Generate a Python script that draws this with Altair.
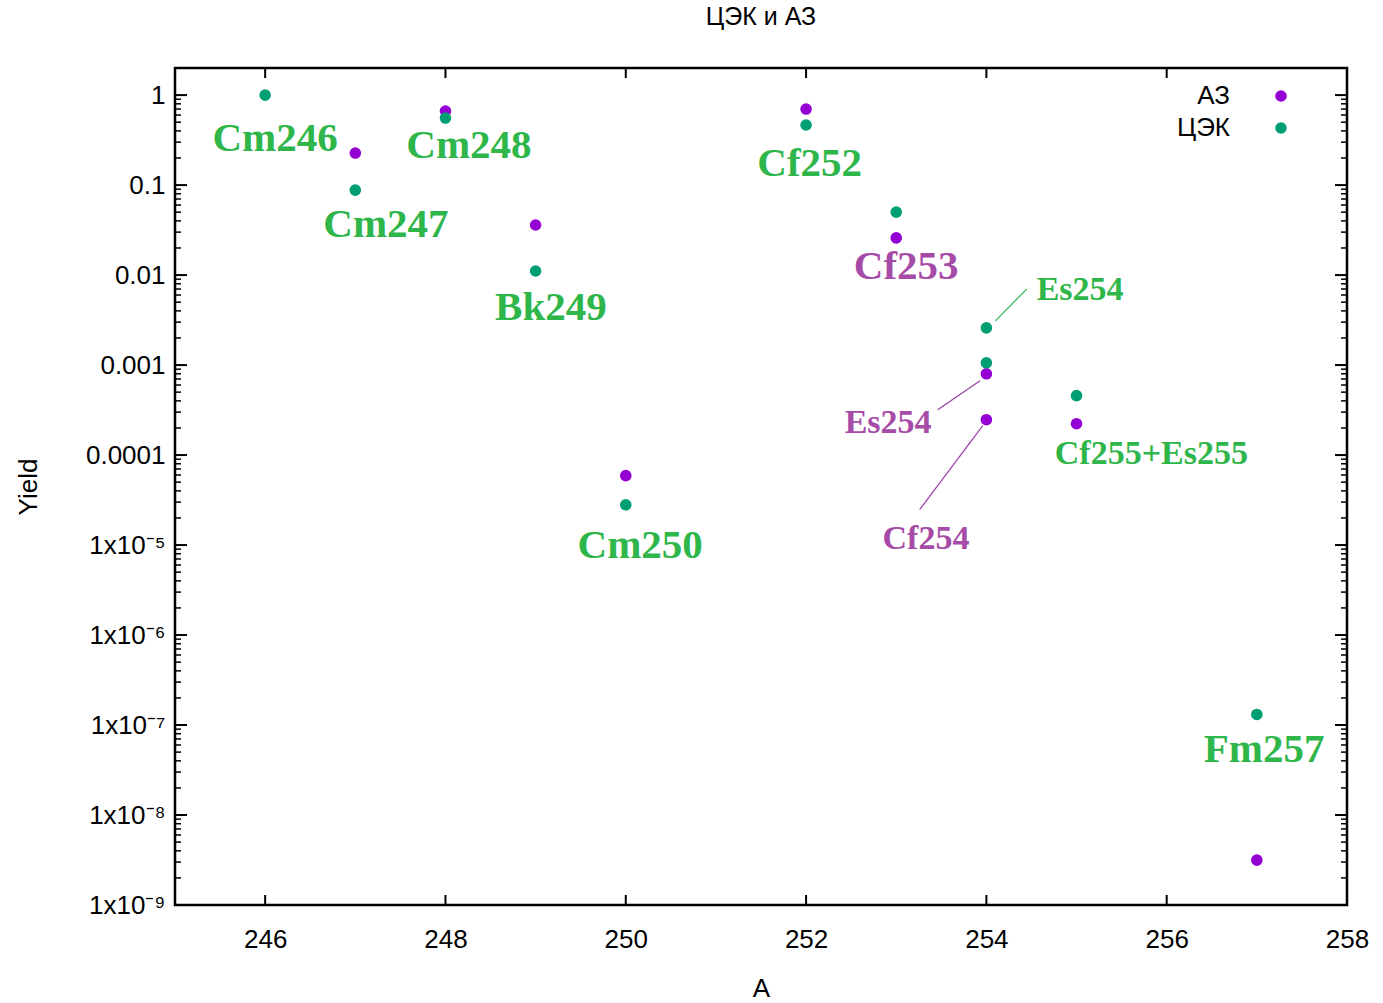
import altair as alt
import pandas as pd

# ---------------- data ----------------
tsek_A = [246, 247, 248, 249, 250, 252, 253, 254, 254, 255, 257]
tsek_Y = [1.0, 0.088, 0.556, 0.0111, 2.8e-5, 0.465, 0.050, 0.00259, 0.00106, 0.000457, 1.31e-7]

az_A = [247, 248, 249, 250, 252, 253, 254, 254, 255, 257]
az_Y = [0.227, 0.665, 0.036, 5.9e-5, 0.70, 0.0259, 0.0008, 0.000247, 0.000223, 3.15e-9]

GREEN_T = "#2eb64a"
PURPLE_T = "#a64ca8"

lab_text = ["Cm246", "Cm248", "Cm247", "Bk249", "Cm250", "Cf252", "Cf253", "Fm257",
            "Es254", "Es254", "Cf254", "Cf255+Es255"]
lab_x = [246.11, 248.26, 247.34, 249.17, 250.16, 252.04, 253.11, 257.08,
         255.04, 252.91, 253.33, 255.83]
lab_y = [0.239, 0.2, 0.0265, 0.00318, 7.26e-6, 0.126, 0.00908, 3.85e-8,
         0.0053, 0.000177, 9.14e-6, 8.03e-5]
lab_color = [GREEN_T, GREEN_T, GREEN_T, GREEN_T, GREEN_T, GREEN_T, PURPLE_T, GREEN_T,
             GREEN_T, PURPLE_T, PURPLE_T, GREEN_T]
lab_size = [41, 41, 41, 41, 41, 41, 41, 41, 34, 34, 34, 34]

lead_x = [254.45, 253.46, 253.26]
lead_x2 = [254.10, 253.93, 253.96]
lead_y = [0.00703, 3.19e-4, 2.48e-5]
lead_y2 = [0.0031, 6.7e-4, 2.12e-4]
lead_color = [GREEN_T, "#9a3fa6", "#9a3fa6"]

x_ticks = [246, 248, 250, 252, 254, 256, 258]
y_major = [1e-9, 1e-8, 1e-7, 1e-6, 1e-5, 1e-4, 1e-3, 1e-2, 1e-1, 1.0]
y_minor = [m * 10.0 ** e for e in range(-9, 1) for m in range(2, 10) if m * 10.0 ** e <= 2.0]

# ---------------- layout ----------------
W, H = 1172, 837
LEFT, TOP = 175, 68

xscale = alt.Scale(domain=[245, 258], nice=False, zero=False)
yscale = alt.Scale(type="log", domain=[1e-9, 2], nice=False)

ylabel_expr = (
    "datum.value < 5e-9 ? '1x10⁻⁹' : datum.value < 5e-8 ? '1x10⁻⁸' : "
    "datum.value < 5e-7 ? '1x10⁻⁷' : datum.value < 5e-6 ? '1x10⁻⁶' : "
    "datum.value < 5e-5 ? '1x10⁻⁵' : format(datum.value, '~g')"
)

xaxis = alt.Axis(values=x_ticks, ticks=False, domain=False, grid=False,
                 labelFontSize=26, labelFont="Liberation Sans", labelColor="#000",
                 labelPadding=21, labelFlush=False, labelOverlap=False,
                 title="A", titleFontSize=26,
                 titleFont="Liberation Sans", titleFontWeight="normal",
                 titleX=W / 2, titleY=83, titleBaseline="middle", titleColor="#000")
yaxis = alt.Axis(values=y_major, ticks=False, domain=False, grid=False,
                 labelExpr=ylabel_expr, labelFontSize=26, labelFont="Liberation Sans",
                 labelColor="#000", labelPadding=10, labelFlush=False, labelOverlap=False,
                 title="Yield", titleFontSize=26, titleFont="Liberation Sans",
                 titleFontWeight="normal", titleX=28 - LEFT, titleY=H / 2,
                 titleBaseline="middle", titleAngle=270, titleColor="#000")

pts = pd.concat([
    pd.DataFrame({"A": az_A, "Yield": az_Y, "series": "АЗ"}),
    pd.DataFrame({"A": tsek_A, "Yield": tsek_Y, "series": "ЦЭК"}),
])

points = alt.Chart(pts).mark_point(filled=True, size=135, opacity=1, strokeWidth=0).encode(
    x=alt.X("A:Q", scale=xscale, axis=xaxis),
    y=alt.Y("Yield:Q", scale=yscale, axis=yaxis),
    color=alt.Color("series:N",
                    scale=alt.Scale(domain=["АЗ", "ЦЭК"], range=["#9400d3", "#009e73"]),
                    legend=alt.Legend(orient="none", legendX=1093, legendY=15, title=None,
                                      labelAlign="right", labelOffset={"expr": "-64"},
                                      labelFontSize=26,
                                      labelFont="Liberation Sans", labelColor="#000",
                                      symbolSize=135, symbolType="circle", rowPadding=6,
                                      padding=0, symbolStrokeWidth=0)),
)

def yrule(vals, x0, x1, sw):
    return alt.Chart(pd.DataFrame({"A": vals})).mark_rule(color="#000", strokeWidth=sw).encode(
        y=alt.Y("A:Q", scale=yscale, axis=yaxis), x=alt.value(x0), x2=alt.value(x1))

def xrule(vals, y0, y1, sw):
    return alt.Chart(pd.DataFrame({"A": vals})).mark_rule(color="#000", strokeWidth=sw).encode(
        x=alt.X("A:Q", scale=xscale, axis=xaxis), y=alt.value(y0), y2=alt.value(y1))

ticks = [
    yrule(y_major, 0, 12, 2), yrule(y_major, W - 12, W, 2),
    yrule(y_minor, 0, 6, 1.5), yrule(y_minor, W - 6, W, 1.5),
    xrule(x_ticks, H - 10, H, 2), xrule(x_ticks, 0, 10, 2),
]

leads = alt.Chart(pd.DataFrame({"x": lead_x, "x2": lead_x2, "y": lead_y, "y2": lead_y2,
                                "c": lead_color})).mark_rule(strokeWidth=1.2).encode(
    x=alt.X("x:Q", scale=xscale, axis=xaxis), x2="x2:Q",
    y=alt.Y("y:Q", scale=yscale, axis=yaxis), y2="y2:Q",
    color=alt.Color("c:N", scale=None))

labels = alt.Chart(pd.DataFrame({"t": lab_text, "x": lab_x, "y": lab_y, "c": lab_color,
                                 "s": lab_size})).mark_text(
    font="Liberation Serif", fontWeight="bold", align="center", baseline="alphabetic").encode(
    x=alt.X("x:Q", scale=xscale, axis=xaxis),
    y=alt.Y("y:Q", scale=yscale, axis=yaxis),
    text="t:N",
    color=alt.Color("c:N", scale=None),
    size=alt.Size("s:Q", scale=None))

chart = alt.layer(points, *ticks, leads, labels).properties(
    width=W, height=H,
    title=alt.TitleParams("ЦЭК и АЗ", fontSize=25, font="Liberation Sans", fontWeight="normal",
                          color="#000", anchor="middle", frame="group", baseline="middle",
                          offset=25),
    autosize=alt.AutoSizeParams(type="none"),
    padding={"left": LEFT, "top": TOP, "right": 1383 - LEFT - W, "bottom": 1003 - TOP - H},
).configure_view(stroke="#000", strokeWidth=2.5)

chart.save("out.html", embed_options={"renderer": "svg", "actions": False})
